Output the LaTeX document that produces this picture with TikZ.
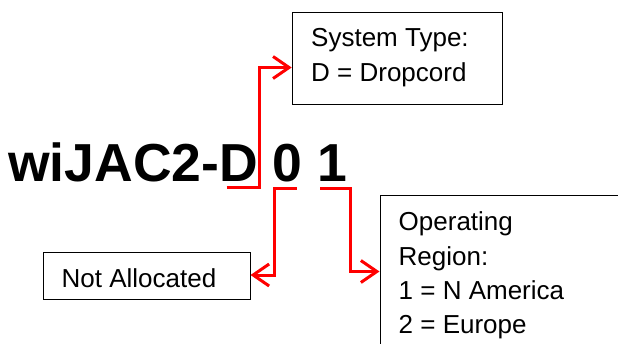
\documentclass[tikz,border=0pt]{standalone}
\usepackage{fontspec}
\setmainfont{Liberation Sans}
\usetikzlibrary{arrows.meta}
\begin{document}
\begin{tikzpicture}[x=1pt,y=-1pt,
  box/.style={draw=black,line width=1pt,rectangle,inner sep=0pt,anchor=north west},
  lbl/.style={anchor=base west,inner sep=0pt,font=\fontsize{26}{31}\selectfont},
  conn/.style={draw=red,line width=3pt,-{Straight Barb[length=16pt,width=22pt]}},
]
\clip (0,0) rectangle (618,343);
% boxes
\node[box,minimum width=210.6pt,minimum height=92.3pt] (sys) at (291.7,11.7) {};
\node[box,minimum width=206.8pt,minimum height=47.3pt] (na) at (42.7,251.7) {};
\node[box,minimum width=260pt,minimum height=170pt] (op) at (379.5,195) {};
% texts
\node[lbl] (s1) at (311,46.7) {System Type:};
\node[lbl] (s2) at (311,81.7) {D = Dropcord};
\node[lbl] (n1) at (61.5,287.7) {Not Allocated};
\node[lbl] (o1) at (398.5,230) {Operating};
\node[lbl] (o2) at (398.5,265) {Region:};
\node[lbl] (o3) at (398.5,299.3) {1 = N America};
\node[lbl] (o4) at (398.5,333.7) {2 = Europe};
% code
\node[anchor=base west,inner sep=0pt,font=\fontsize{53.5}{60}\selectfont\bfseries] (code) at (8,181.7) {wiJAC2-D 0 1};
% connectors
\coordinate (uD) at (226.7,187);
\coordinate (cD) at (259.5,67.5);
\coordinate (u0) at (296.7,188.3);
\coordinate (c0) at (274.3,275);
\coordinate (u1) at (320,188.3);
\coordinate (c1) at (350,271.5);
\draw[conn] (uD) -| (cD) -- (cD -| sys.west);
\draw[conn] (u0) -| (c0) -- (c0 -| na.east);
\draw[conn] (u1) -| (c1) -- (c1 -| op.west);
\end{tikzpicture}
\end{document}
